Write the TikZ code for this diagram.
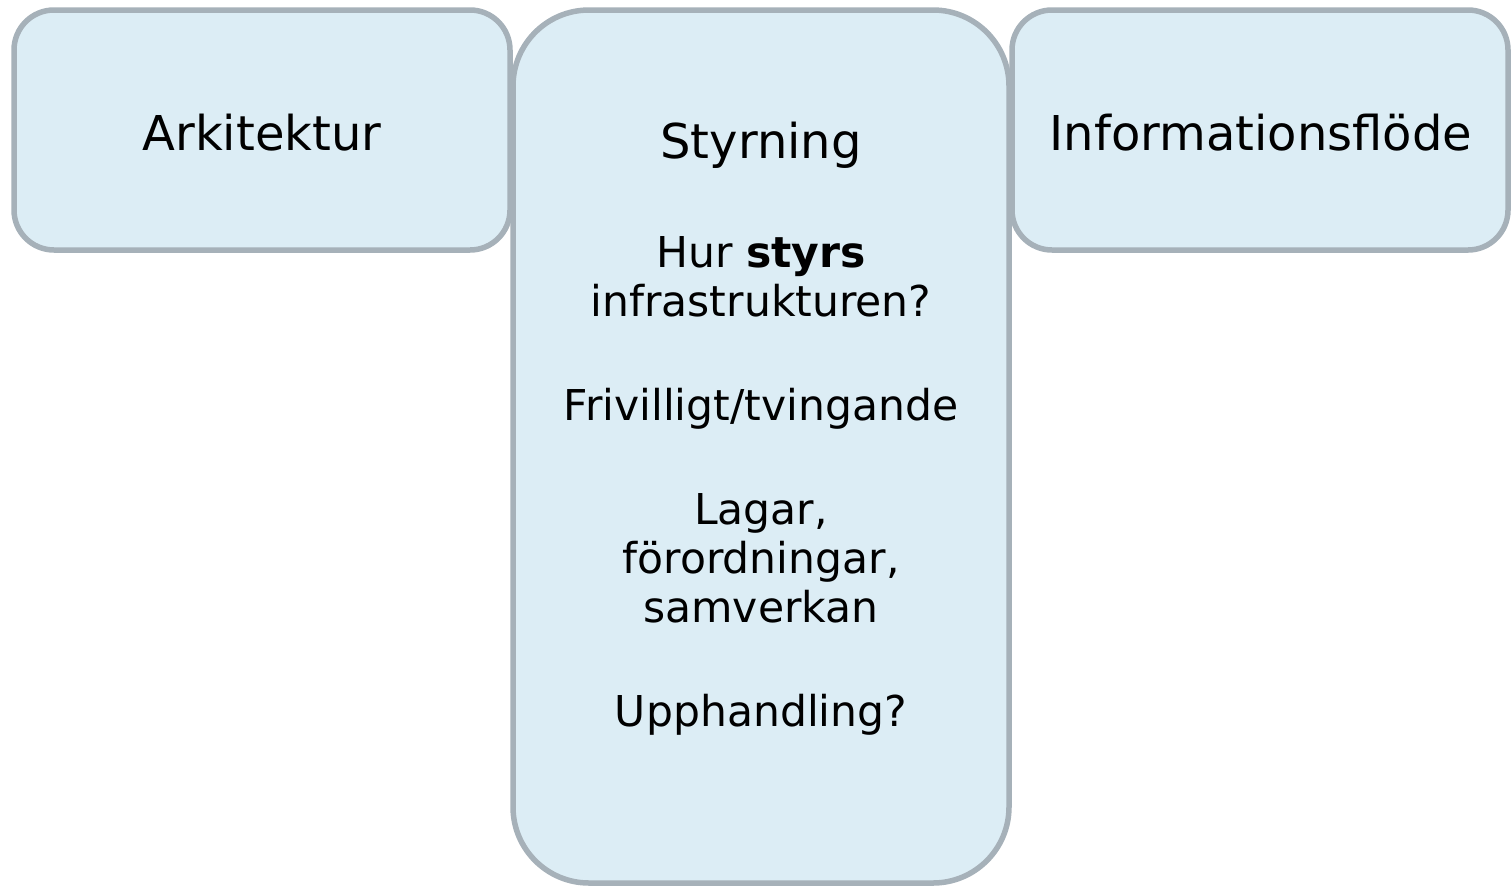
\documentclass[tikz,border=0pt]{standalone}
\usepackage{fontspec}
\setmainfont{DejaVu Sans}
\usepackage{tikz}

\definecolor{boxfill}{HTML}{DCEDF5}
\definecolor{boxline}{HTML}{A6B1B9}

\begin{document}
\begin{tikzpicture}[x=1pt, y=-1pt,
    box/.style={draw=boxline, fill=boxfill, line width=5.5pt, inner sep=0pt},
    title/.style={font=\fontsize{48}{58}\selectfont, anchor=base},
    body/.style={font=\fontsize{42.5}{49}\selectfont, align=center, anchor=base}]
    \useasboundingbox (0,0) rectangle (1511,887);

    % Side boxes
    \node[box, rounded corners=40pt, minimum width=496pt, minimum height=240pt] (arkbox) at (262,130) {};
    \node[box, rounded corners=40pt, minimum width=496pt, minimum height=240pt] (infobox) at (1260,130) {};

    % Middle box
    \node[box, rounded corners=76pt, minimum width=496pt, minimum height=873pt] (styrbox) at (761,446.5) {};

    % Titles
    \node[title] (arktitle) at (262,150) {Arkitektur};
    \node[title] (styrtitle) at (761,158) {Styrning};
    \node[title] (infotitle) at (1261,150) {Informationsflöde};

    % Questions (base = last line)
    \node[body] (styrtext) at (761,726) {Hur \textbf{styrs}\\ infrastrukturen?\\[55pt]
        Frivilligt/tvingande\\[55pt]
        Lagar,\\ förordningar,\\ samverkan\\[55pt]
        Upphandling?};
\end{tikzpicture}
\end{document}
